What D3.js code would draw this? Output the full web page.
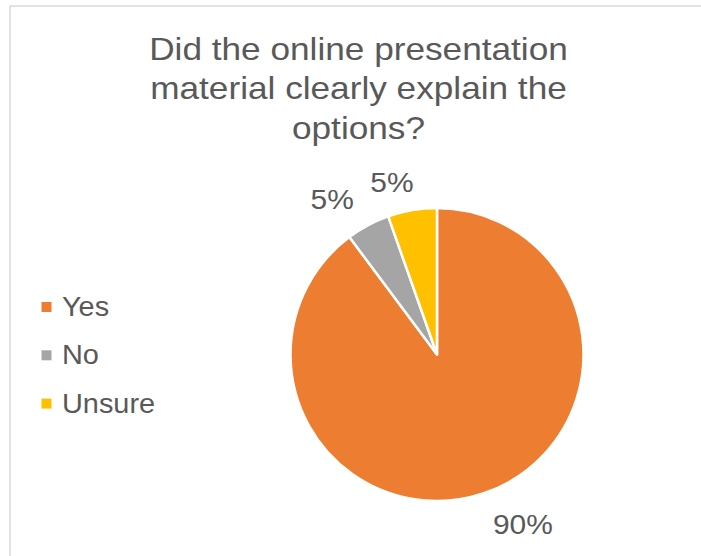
<!DOCTYPE html>
<html>
<head>
<meta charset="utf-8">
<script src="https://cdn.jsdelivr.net/npm/d3@7"></script>
<style>
  html, body { margin: 0; padding: 0; background: #fff; }
  svg { display: block; }
</style>
</head>
<body>
<svg id="chart" width="701" height="556"></svg>
<script>
// Survey responses (share of respondents, in percent)
const categories = ["Yes", "No", "Unsure"];
const values = [89.8, 4.8, 5.4];
const colors = ["#ED7D31", "#A5A5A5", "#FFC000"];
const titleLines = ["Did the online presentation", "material clearly explain the", "options?"];

// Outside-end label placement: angular nudge (degrees) and distance from centre
const labelNudgeDeg = [-8.5, -5.9, -4.9];
const labelDist = [190, 187.6, 178.3];

const svg = d3.select("#chart");
const W = 701, H = 556;
const textColor = "#595959";
const font = "'Liberation Sans', Arial, sans-serif";
const titleStretch = 1.1, textStretch = 1.07;

// chart area frame
svg.append("rect")
  .attr("x", 10).attr("y", 6)
  .attr("width", W + 20).attr("height", H + 20)
  .attr("fill", "#fff")
  .attr("stroke", "#D9D9D9")
  .attr("stroke-width", 1.5);

// title
svg.append("text")
  .attr("transform", `translate(358.5,0) scale(${titleStretch},1)`)
  .attr("text-anchor", "middle")
  .attr("font-family", font)
  .attr("font-size", 32)
  .attr("fill", textColor)
  .selectAll("tspan")
  .data(titleLines)
  .join("tspan")
  .attr("x", 0)
  .attr("y", (d, i) => 60 + i * 39.5)
  .text(d => d);

// pie
const cx = 437, cy = 354.5, r = 146.5;
const data = categories.map((c, i) => ({ category: c, value: values[i], color: colors[i] }));
const pie = d3.pie().value(d => d.value).sort(null);
const arcs = pie(data);
const arc = d3.arc().innerRadius(0).outerRadius(r);
const total = d3.sum(values);
const pct = d3.format(".0%");

const g = svg.append("g").attr("transform", `translate(${cx},${cy})`);
g.selectAll("path")
  .data(arcs)
  .join("path")
  .attr("d", arc)
  .attr("fill", d => d.data.color)
  .attr("stroke", "#fff")
  .attr("stroke-width", 2.5)
  .attr("stroke-linejoin", "round");

// data labels
const labelPos = (d, i) => {
  const a = (d.startAngle + d.endAngle) / 2 + labelNudgeDeg[i] * Math.PI / 180;
  return [Math.sin(a) * labelDist[i], -Math.cos(a) * labelDist[i]];
};
g.selectAll("text.lbl")
  .data(arcs)
  .join("text")
  .attr("class", "lbl")
  .attr("transform", (d, i) => {
    const [x, y] = labelPos(d, i);
    return `translate(${x},${y}) scale(${textStretch},1)`;
  })
  .attr("font-family", font)
  .attr("font-size", 28)
  .attr("fill", textColor)
  .attr("text-anchor", "middle")
  .attr("dominant-baseline", "central")
  .text(d => pct(d.data.value / total));

// legend
const legend = svg.append("g").attr("transform", "translate(41.5,302)");
const item = legend.selectAll("g")
  .data(data)
  .join("g")
  .attr("transform", (d, i) => `translate(0,${i * 48.3})`);
item.append("rect")
  .attr("width", 10).attr("height", 10)
  .attr("fill", d => d.color);
item.append("text")
  .attr("transform", `translate(20.5,14) scale(${textStretch},1)`)
  .attr("font-family", font)
  .attr("font-size", 27)
  .attr("fill", textColor)
  .text(d => d.category);
</script>
</body>
</html>
